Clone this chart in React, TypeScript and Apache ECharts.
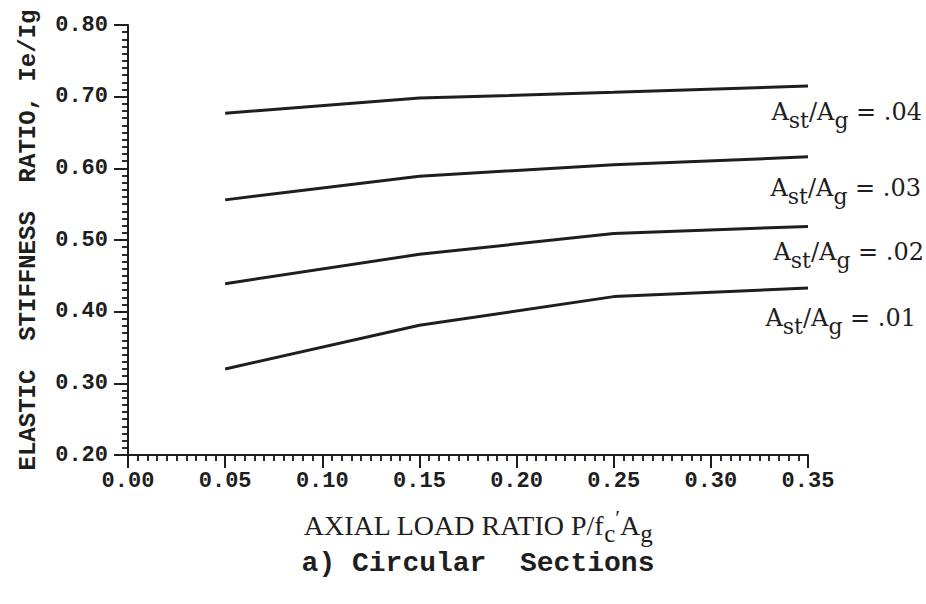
import React, { useEffect, useRef } from 'react';
import * as echarts from 'echarts';

// Axial load ratio P / f'c Ag at which stiffness was computed
const axialRatio = [0.05, 0.15, 0.25, 0.35];
// Elastic stiffness ratio Ie/Ig for each longitudinal steel ratio Ast/Ag
const ratio04 = [0.677, 0.698, 0.706, 0.715];
const ratio03 = [0.556, 0.589, 0.605, 0.616];
const ratio02 = [0.439, 0.48, 0.509, 0.519];
const ratio01 = [0.32, 0.381, 0.421, 0.433];
const steelRatioLabels = ['.04', '.03', '.02', '.01'];

const yTitle = 'ELASTIC  STIFFNESS  RATIO, Ie/Ig';
const caption = 'a) Circular  Sections';

const INK = '#1e1e1e';
const MONO = '"Liberation Mono", "Courier New", monospace';
const SERIF = '"DejaVu Serif", serif';
const TIMES = '"Liberation Serif", "Times New Roman", serif';

const labelRich = {
  m: { fontFamily: SERIF, fontSize: 24, color: INK, lineHeight: 30 },
  s: { fontFamily: SERIF, fontSize: 22, color: INK, lineHeight: 30, padding: [17, 0, 0, 0] },
};

export default function App() {
  const ref = useRef<HTMLDivElement>(null);
  useEffect(() => {
    if (!ref.current) return;
    const chart = echarts.init(ref.current, undefined, { renderer: 'svg' });
    const seriesValues = [ratio04, ratio03, ratio02, ratio01];
    const labelOffsets = [
      [114, 26],
      [113, 31],
      [116, 26],
      [108, 30],
    ];
    const labelStyle = {
      fontFamily: MONO,
      fontWeight: 'bold' as const,
      fontSize: 22,
      color: INK,
      formatter: (v: number) => v.toFixed(2),
    };
    // tick-strip axes: only their split lines are drawn, giving outside ticks
    const tickStrip = (gridIndex: number, min: number, max: number, interval: number, width: number) => ({
      type: 'value',
      gridIndex,
      min,
      max,
      interval,
      axisLine: { show: false },
      axisTick: { show: false },
      axisLabel: { show: false },
      splitLine: { show: true, lineStyle: { color: INK, width } },
    });
    const hidden = (gridIndex: number) => ({ type: 'value', gridIndex, show: false });
    chart.setOption({
      animation: false,
      backgroundColor: '#ffffff',
      grid: [
        { left: 128, right: 118, top: 25, bottom: 149 },
        { left: 128, right: 118, top: 455, height: 6 },
        { left: 128, right: 118, top: 455, height: 13 },
        { left: 122, width: 6, top: 25, bottom: 149 },
        { left: 114, width: 14, top: 25, bottom: 149 },
      ],
      xAxis: [
        {
          type: 'value',
          gridIndex: 0,
          min: 0,
          max: 0.35,
          interval: 0.05,
          axisLine: { show: true, lineStyle: { color: INK, width: 2 } },
          axisTick: { show: true, inside: false, length: 13, lineStyle: { color: INK, width: 2 } },
          minorTick: { show: true, splitNumber: 10, length: 6, lineStyle: { color: INK, width: 1.5 } },
          splitLine: { show: false },
          axisLabel: { ...labelStyle, margin: 15 },
          name: '{m|AXIAL LOAD RATIO P/f}{s|c}{p|′}{m|A}{s|g}',
          nameLocation: 'middle',
          nameGap: 54,
          nameTextStyle: {
            padding: [0, 0, 0, 20],
            rich: {
              m: { fontFamily: TIMES, fontSize: 28, color: INK, lineHeight: 32 },
              s: { fontFamily: TIMES, fontSize: 25, color: INK, lineHeight: 32, padding: [16, 0, 0, 0] },
              p: { fontFamily: TIMES, fontSize: 22, color: INK, lineHeight: 32, padding: [0, 0, 16, 0] },
            },
          },
        },
        tickStrip(1, 0, 0.35, 0.005, 1.5),
        tickStrip(2, 0, 0.35, 0.05, 2),
        hidden(3),
        hidden(4),
      ],
      yAxis: [
        {
          type: 'value',
          gridIndex: 0,
          min: 0.2,
          max: 0.8,
          interval: 0.1,
          axisLine: { show: true, lineStyle: { color: INK, width: 2 } },
          axisTick: { show: true, inside: false, length: 14, lineStyle: { color: INK, width: 2 } },
          minorTick: { show: true, splitNumber: 10, length: 6, lineStyle: { color: INK, width: 1.5 } },
          splitLine: { show: false },
          axisLabel: { ...labelStyle, margin: 20 },
          name: yTitle,
          nameLocation: 'middle',
          nameGap: 88,
          nameTextStyle: { fontFamily: MONO, fontWeight: 'bold', fontSize: 24, color: INK },
        },
        hidden(1),
        hidden(2),
        tickStrip(3, 0.2, 0.8, 0.01, 1.5),
        tickStrip(4, 0.2, 0.8, 0.1, 2),
      ],
      series: seriesValues.map((vals, i) => ({
        type: 'line',
        name: steelRatioLabels[i],
        xAxisIndex: 0,
        yAxisIndex: 0,
        data: axialRatio.map((x, j) => [x, vals[j]]),
        showSymbol: false,
        lineStyle: { color: INK, width: 3 },
        endLabel: {
          show: true,
          distance: 0,
          align: 'right',
          verticalAlign: 'middle',
          offset: labelOffsets[i],
          formatter: `{m|A}{s|st}{m|/A}{s|g}{m| = ${steelRatioLabels[i]}}`,
          rich: labelRich,
        },
      })),
      graphic: [
        {
          type: 'text',
          x: 478,
          y: 563,
          style: {
            text: caption,
            fontFamily: MONO,
            fontWeight: 'bold',
            fontSize: 28,
            fill: INK,
            align: 'center',
            verticalAlign: 'middle',
          },
        },
      ],
    });
    return () => chart.dispose();
  }, []);
  return (
    <div
      ref={ref}
      style={{ position: 'fixed', left: 0, top: 0, width: 926, height: 604, background: '#fff' }}
    />
  );
}
